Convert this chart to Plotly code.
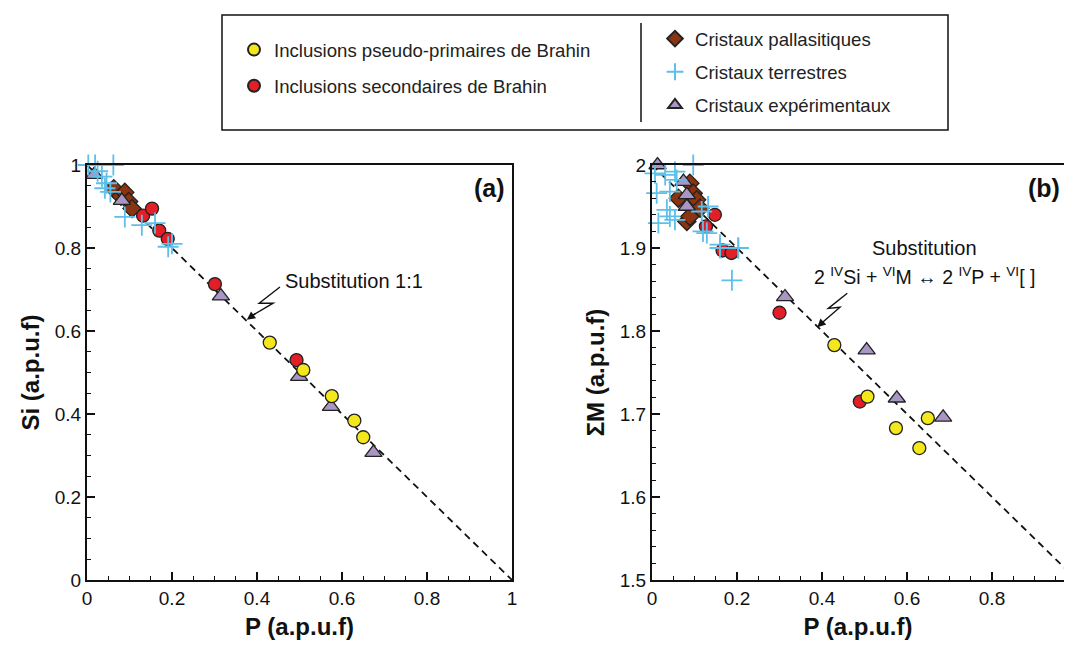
import plotly.graph_objects as go

# ---- panel (a) : Si vs P ----
yel_p_a = [0.43, 0.509, 0.576, 0.629, 0.65]
yel_si = [0.572, 0.506, 0.443, 0.384, 0.344]
red_p_a = [0.132, 0.153, 0.17, 0.19, 0.301, 0.493]
red_si = [0.878, 0.895, 0.842, 0.822, 0.713, 0.530]
dia_p_a = [0.063, 0.08, 0.089, 0.098, 0.106]
dia_si = [0.943, 0.925, 0.934, 0.912, 0.895]
tri_p_a = [0.017, 0.082, 0.315, 0.499, 0.574, 0.674]
tri_si = [0.977, 0.914, 0.684, 0.490, 0.418, 0.307]
crx_p_a = [0.003, 0.019, 0.062, 0.025, 0.035, 0.046, 0.042, 0.055, 0.089, 0.129, 0.16, 0.191, 0.2]
crx_si = [1.0, 1.0, 1.0, 0.985, 0.972, 0.956, 0.944, 0.935, 0.875, 0.855, 0.86, 0.803, 0.81]

# ---- panel (b) : sum M vs P ----
yel_p_b = [0.429, 0.507, 0.574, 0.629, 0.649]
yel_m = [1.783, 1.721, 1.683, 1.659, 1.695]
red_p_b = [0.127, 0.148, 0.166, 0.187, 0.30, 0.489]
red_m = [1.926, 1.94, 1.897, 1.894, 1.822, 1.715]
dia_p_b = [0.062, 0.082, 0.089, 0.089, 0.097, 0.105, 0.113]
dia_m = [1.96, 1.932, 1.938, 1.978, 1.966, 1.958, 1.948]
tri_p_b = [0.013, 0.074, 0.082, 0.082, 0.313, 0.505, 0.576, 0.685]
tri_m = [2.0, 1.98, 1.964, 1.950, 1.841, 1.777, 1.719, 1.696]
crx_p_b = [0.007, 0.031, 0.054, 0.058, 0.097, 0.011, 0.042, 0.035, 0.042, 0.015,
           0.054, 0.117, 0.129, 0.132, 0.12, 0.16, 0.16, 0.188, 0.203, 0.203]
crx_m = [1.99, 1.988, 1.992, 1.982, 2.0, 1.966, 1.968, 1.946, 1.938, 1.93,
         1.934, 1.944, 1.918, 1.95, 1.92, 1.9, 1.904, 1.861, 1.90, 1.90]

# reference lines (substitution trends)
line_a_x, line_a_y = [0, 1], [1, 0]
line_b_x, line_b_y = [0, 1], [2, 1.5]

FONT = "Liberation Sans, Arial, sans-serif"
YELLOW = "#f4e81c"
RED = "#e21f26"
BROWN = "#8b3412"
BLUE = "#5cc0ea"
LILAC = "#a996c4"

series = [
    # name, marker style, legend, rank
    ("Cristaux pallasitiques", dict(symbol="diamond", size=14, color=BROWN, line=dict(color="#222", width=1.3)), "legend2", 3,
     dia_p_a, dia_si, dia_p_b, dia_m),
    ("Cristaux expérimentaux", dict(symbol="triangle-up", size=15, color=LILAC, line=dict(color="#222", width=1.3)), "legend2", 5,
     tri_p_a, tri_si, tri_p_b, tri_m),
    ("Inclusions secondaires de Brahin", dict(symbol="circle", size=13, color=RED, line=dict(color="#222", width=1.3)), "legend", 2,
     red_p_a, red_si, red_p_b, red_m),
    ("Inclusions pseudo-primaires de Brahin", dict(symbol="circle", size=13, color=YELLOW, line=dict(color="#222", width=1.3)), "legend", 1,
     yel_p_a, yel_si, yel_p_b, yel_m),
    ("Cristaux terrestres", dict(symbol="cross-thin", size=15, color=BLUE, line=dict(color=BLUE, width=1.8)), "legend2", 4,
     crx_p_a, crx_si, crx_p_b, crx_m),
]

fig = go.Figure()

fig.add_trace(go.Scatter(x=line_a_x, y=line_a_y, mode="lines", xaxis="x", yaxis="y",
                         line=dict(color="#111", width=1.8, dash="7px,5px"), showlegend=False))
fig.add_trace(go.Scatter(x=line_b_x, y=line_b_y, mode="lines", xaxis="x2", yaxis="y2",
                         line=dict(color="#111", width=1.8, dash="7px,5px"), showlegend=False))

for name, mk, leg, rank, xa, ya, xb, yb in series:
    fig.add_trace(go.Scatter(x=xa, y=ya, mode="markers", name=name, marker=mk, xaxis="x", yaxis="y",
                             legend=leg, legendgroup=name, legendrank=rank, cliponaxis=False))
    fig.add_trace(go.Scatter(x=xb, y=yb, mode="markers", name=name, marker=mk, xaxis="x2", yaxis="y2",
                             legendgroup=name, showlegend=False, cliponaxis=False))

axis_common = dict(showline=True, linecolor="#111", linewidth=2, mirror=True, automargin=False,
                   ticks="inside", ticklen=8, tickwidth=1.5, tickcolor="#111",
                   showgrid=False, zeroline=False,
                   tickfont=dict(family=FONT, size=19, color="#111"),
                   minor=dict(ticks="inside", ticklen=4, tickwidth=1.2, tickcolor="#111"))
title_font = dict(family=FONT, size=24, color="#111")

# the page adds an 8px body margin on every side, so the figure is shrunk
# to fit the window and positions below are given in window pixels
OFF = 8
W, H = 1072 - 2 * OFF, 648 - 2 * OFF
RIGHT = 1072 - OFF
def px(v):
    return (v - OFF) / W
def py(v):
    return 1 - (v - OFF) / H

txt = dict(family=FONT, size=20, color="#111")

fig.update_layout(
    width=W, height=H,
    margin=dict(l=0, r=0, t=0, b=0),
    paper_bgcolor="white", plot_bgcolor="white",
    font=dict(family=FONT, color="#111"),
    xaxis=dict(axis_common, domain=[px(87), px(512)], range=[0, 1], dtick=0.2,
               anchor="y", title=dict(text="<b>P (a.p.u.f)</b>", font=title_font, standoff=15)),
    yaxis=dict(axis_common, domain=[py(580), py(165)], range=[0, 1], dtick=0.2,
               anchor="x", title=dict(text="<b>Si (a.p.u.f)</b>", font=title_font, standoff=8)),
    xaxis2=dict(axis_common, domain=[px(652), px(RIGHT)], range=[0, (RIGHT - 652) / 425], dtick=0.2,
                anchor="y2", title=dict(text="<b>P (a.p.u.f)</b>", font=title_font, standoff=15)),
    yaxis2=dict(axis_common, domain=[py(580), py(165)], range=[1.5, 2], dtick=0.1,
                anchor="x2", title=dict(text="<b>ΣM (a.p.u.f)</b>", font=title_font, standoff=8)),
    legend=dict(x=px(234), y=py(31), xanchor="left", yanchor="top", traceorder="grouped",
                tracegroupgap=9, bgcolor="rgba(0,0,0,0)", itemsizing="constant",
                font=dict(family=FONT, size=18.6, color="#222")),
    legend2=dict(x=px(655), y=py(20), xanchor="left", yanchor="top", traceorder="grouped",
                 tracegroupgap=6, bgcolor="rgba(0,0,0,0)", itemsizing="constant",
                 font=dict(family=FONT, size=18.6, color="#222")),
    shapes=[
        dict(type="rect", xref="paper", yref="paper", x0=px(222), x1=px(948), y0=py(130), y1=py(15),
             line=dict(color="#111", width=1.5)),
        dict(type="line", xref="paper", yref="paper", x0=px(641), x1=px(641), y0=py(122), y1=py(23),
             line=dict(color="#111", width=1.5)),
        # zigzag arrow tails
        dict(type="path", xref="x", yref="y", path="M 0.454 0.706 L 0.405 0.667 L 0.438 0.667 L 0.39 0.638",
             line=dict(color="#111", width=1.4)),
        dict(type="path", xref="x2", yref="y2", path="M 0.4595 1.8454 L 0.4148 1.8273 L 0.4424 1.8286 L 0.398 1.809",
             line=dict(color="#111", width=1.4)),
    ],
    annotations=[
        dict(x=0.376, y=0.627, ax=0.40, ay=0.645, xref="x", yref="y", axref="x", ayref="y",
             text="", showarrow=True, arrowhead=2, arrowsize=1.2, arrowwidth=1.4, arrowcolor="#111"),
        dict(x=0.389, y=1.8045, ax=0.405, ay=1.8125, xref="x2", yref="y2", axref="x2", ayref="y2",
             text="", showarrow=True, arrowhead=2, arrowsize=1.2, arrowwidth=1.4, arrowcolor="#111"),
        dict(x=px(354), y=py(281), xref="paper", yref="paper", xanchor="center", yanchor="middle",
             text="Substitution 1:1", showarrow=False, font=txt),
        dict(x=px(924), y=py(248), xref="paper", yref="paper", xanchor="center", yanchor="middle",
             text="Substitution", showarrow=False, font=txt),
        dict(x=px(924), y=py(276), xref="paper", yref="paper", xanchor="center", yanchor="middle",
             text="2 <sup>IV</sup>Si + <sup>VI</sup>M ↔ 2 <sup>IV</sup>P + <sup>VI</sup>[ ]", showarrow=False,
             font=dict(family=FONT, size=19.5, color="#111")),
        dict(x=px(489), y=py(188), xref="paper", yref="paper", xanchor="center", yanchor="middle",
             text="<b>(a)</b>", showarrow=False, font=dict(family=FONT, size=25, color="#111")),
        dict(x=px(1044), y=py(188), xref="paper", yref="paper", xanchor="center", yanchor="middle",
             text="<b>(b)</b>", showarrow=False, font=dict(family=FONT, size=25, color="#111")),
    ],
)

fig.write_html("out.html")
